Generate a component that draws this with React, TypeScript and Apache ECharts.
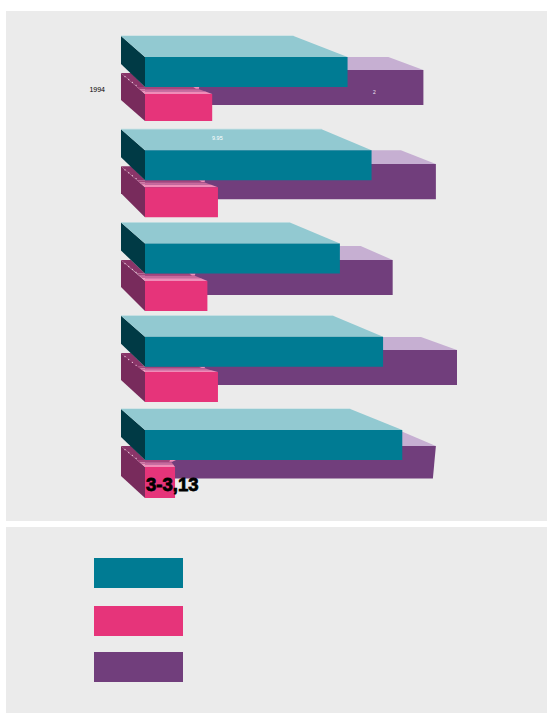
import React, { useEffect, useRef } from "react";
import * as echarts from "echarts";

const categories = ["1994", "1995", "1996", "1997", "1998"];
const tealValues = [21.1, 23.6, 20.3, 24.8, 26.8];
const purpleValues = [29.0, 30.3, 25.8, 32.5, 30.3];
const pinkValues = [7.0, 7.6, 6.5, 7.6, 3.13];

const TEAL = { front: "#007b93", top: "#92c9d1", side: "#003a45", edge: "#b9dde2" };
const PINK = { front: "#e6347a", side: "#782b5c", back: "#8a3569", bands: ["#a5457c", "#c9699c", "#f08cb8"] };
const PURPLE = { front: "#713e7c", top: "#c6afd2" };
const PANEL = "#ebebeb";

// Pixel layout of each box relative to its category's centre line
const tealDx = [-54, -50, -50, -50, -52];
const purpleBox = [
  { t: -19, b: 16, back: -32, dx: -35, slant: 0 },
  { t: -18.3, b: 17, back: -32, dx: -35, slant: 0 },
  { t: -15.5, b: 19.5, back: -29.5, dx: -32, slant: 0 },
  { t: -18.75, b: 16.25, back: -31.75, dx: -36, slant: 0 },
  { t: -16, b: 16.5, back: -30.5, dx: -34, slant: -3 },
];
const pinkBox = [
  { t: 5, b: 32, dx: -19, backT: -16, backB: 11 },
  { t: 5, b: 35, dx: -19, backT: -16, backB: 11 },
  { t: 5.5, b: 35.5, dx: -18, backT: -15.5, backB: 11.5 },
  { t: 3.25, b: 33.25, dx: -19, backT: -15.75, backB: 11.25 },
  { t: 5, b: 36, dx: -5, backT: -16, backB: 14 },
];

const poly = (points: number[][], fill: string) => ({
  type: "polygon",
  shape: { points },
  style: { fill, stroke: "none" },
});

const renderTeal = (params: any, api: any) => {
  const i = params.dataIndex;
  const [x1, c] = api.coord([api.value(0), i]);
  const x0 = api.coord([0, i])[0];
  const t = c - 32, b = c - 2, bt = c - 53, bb = c - 25, lx = x0 - 24;
  return {
    type: "group",
    children: [
      poly([[lx, bt], [x0, t], [x0, b], [lx, bb]], TEAL.side),
      poly([[lx, bt], [x1 + tealDx[i], bt], [x1, t], [x0, t]], TEAL.top),
      poly([[lx, bt - 0.6], [x1 + tealDx[i], bt - 0.6], [x1 + tealDx[i], bt], [lx, bt]], TEAL.edge),
      poly([[x0, t], [x1, t], [x1, b], [x0, b]], TEAL.front),
    ],
  };
};

const renderPurple = (params: any, api: any) => {
  const i = params.dataIndex;
  const g = purpleBox[i];
  const [x1, c] = api.coord([api.value(0), i]);
  const x0 = api.coord([0, i])[0];
  return {
    type: "group",
    children: [
      poly([[x0, c + g.back], [x1 + g.dx, c + g.back], [x1, c + g.t], [x0, c + g.t]], PURPLE.top),
      poly([[x0, c + g.t], [x1, c + g.t], [x1 + g.slant, c + g.b], [x0, c + g.b]], PURPLE.front),
    ],
  };
};

const renderPink = (params: any, api: any) => {
  const i = params.dataIndex;
  const g = pinkBox[i];
  const [x1, c] = api.coord([api.value(0), i]);
  const x0 = api.coord([0, i])[0];
  const lx = x0 - 24;
  const top = c + g.t;
  const cut = c - 2;
  const depth = top - cut;
  const leftAt = (f: number) => x0 - 8 * f;
  const rightAt = (f: number) => x1 + g.dx * f;
  const stops = [1, 0.7, 0.36, 0];
  const bands = PINK.bands.map((col, k) => {
    const a = stops[k], d = stops[k + 1];
    return poly(
      [[leftAt(a), top - depth * a], [rightAt(a), top - depth * a], [rightAt(d), top - depth * d], [leftAt(d), top - depth * d]],
      col
    );
  });
  const sliver = poly(
    [[rightAt(1), cut], [rightAt(1) + 6, cut], [rightAt(0.75) + 1, top - depth * 0.75], [rightAt(0.75) - 2, top - depth * 0.75]],
    PINK.bands[2]
  );
  const dots = [0, 1, 2, 3].map((k) => ({
    type: "circle",
    shape: { cx: lx + 4 + k * 3.7, cy: c + g.backT + 3.6 + k * 2.9, r: 0.6 },
    style: { fill: "#f0c6dc" },
  }));
  return {
    type: "group",
    children: [
      poly([[lx, c + g.backT], [x0, top], [x0, c + g.b], [lx, c + g.backB]], PINK.side),
      poly([[lx, c + g.backT], [lx + 10, c + g.backT], [x0, cut], [leftAt(1), cut]], PINK.back),
      ...dots,
      ...bands,
      sliver,
      poly([[x0, top], [x1, top], [x1, c + g.b], [x0, c + g.b]], PINK.front),
    ],
  };
};

const panelRect = (y: number, h: number) => ({
  type: "rect",
  z: -10,
  shape: { x: 6, y, width: 541, height: h },
  style: { fill: PANEL },
});
const legendRect = (y: number, fill: string) => ({
  type: "rect",
  z: 5,
  shape: { x: 94, y, width: 89, height: 30 },
  style: { fill },
});
const label = (x: number, y: number, text: string, fill: string, size: number, weight = "normal", stroke = 0) => ({
  type: "text",
  z: 50,
  x,
  y,
  style: {
    text,
    fill,
    fontSize: size,
    fontWeight: weight,
    fontFamily: "Liberation Sans",
    textAlign: "left",
    textVerticalAlign: "middle",
    stroke: stroke ? fill : undefined,
    lineWidth: stroke,
  },
});

const custom = (name: string, values: number[], renderItem: any) => ({
  type: "custom",
  name,
  silent: true,
  clip: false,
  renderItem,
  encode: { x: 0, y: 1 },
  data: values.map((v, i) => [v, i]),
});

export default function App() {
  const ref = useRef<HTMLDivElement>(null);
  useEffect(() => {
    document.body.style.margin = "0";
    const chart = echarts.init(ref.current!, undefined, { renderer: "svg" });
    chart.setOption({
      animation: false,
      backgroundColor: "#ffffff",
      grid: { left: 145, top: 42.4, width: 384, height: 466.25 },
      xAxis: { type: "value", min: 0, max: 40, show: false },
      yAxis: {
        type: "category",
        inverse: true,
        data: categories,
        axisLine: { show: false },
        axisTick: { show: false },
        splitLine: { show: false },
        axisLabel: {
          margin: 40,
          interval: 0,
          color: "#000000",
          fontSize: 7,
          fontFamily: "Liberation Sans",
          padding: [8, 0, 0, 0],
          formatter: (v: string) => (v === categories[0] ? v : ""),
        },
      },
      graphic: [
        panelRect(11, 510),
        panelRect(527, 186),
        legendRect(558, TEAL.front),
        legendRect(606, PINK.front),
        legendRect(652, PURPLE.front),
        label(373, 92, "2", "#f0e8f2", 5),
        label(212, 138, "9.95", "#ffffff", 5.5),
        label(146, 484, "3-3,13", "#000000", 18.5, "bold", 0.8),
      ],
      series: [
        custom("Purple", purpleValues, renderPurple),
        custom("Pink", pinkValues, renderPink),
        custom("Teal", tealValues, renderTeal),
      ],
    });
    return () => chart.dispose();
  }, []);
  return <div ref={ref} style={{ width: 547, height: 713 }} />;
}
